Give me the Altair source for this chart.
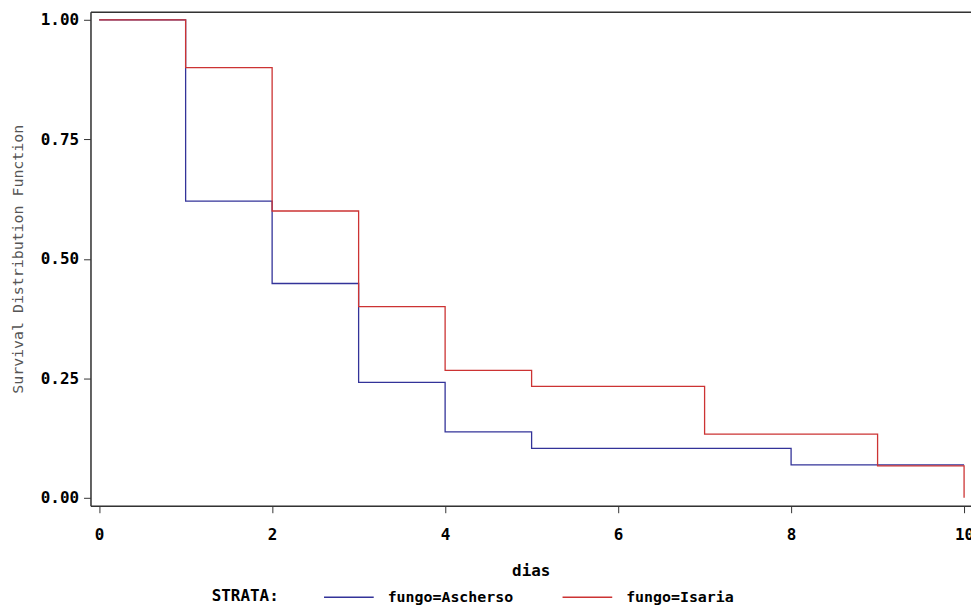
import altair as alt
import pandas as pd

# Kaplan-Meier survival estimates
strata = ["fungo=Ascherso", "fungo=Isaria"]
days_asch = [0, 1, 2, 3, 4, 5, 8, 10]
surv_asch = [1.0, 0.6207, 0.4483, 0.2414, 0.1379, 0.1034, 0.0690, 0.0690]
days_isa = [0, 1, 2, 3, 4, 5, 7, 9, 10]
surv_isa = [1.0, 0.90, 0.60, 0.40, 0.2667, 0.2333, 0.1333, 0.0667, 0.0]

x_ticks = [0, 2, 4, 6, 8, 10]
y_ticks = [0.0, 0.25, 0.50, 0.75, 1.0]
colors = ["#333399", "#CC3333"]

rows = []
for d, s in zip(days_asch, surv_asch):
    rows.append({"dias": d, "surv": s, "strata": strata[0]})
for d, s in zip(days_isa, surv_isa):
    rows.append({"dias": d, "surv": s, "strata": strata[1]})
df = pd.DataFrame(rows)

font = "DejaVu Sans Mono"

xscale = alt.Scale(domain=[-0.1, 10.08], nice=False, zero=False)
yscale = alt.Scale(domain=[-0.0166, 1.0166], nice=False, zero=False)

yaxis = alt.Axis(
    values=y_ticks, format=".2f", title="Survival Distribution Function",
    labelFont=font, labelFontSize=16, labelFontWeight="bold", labelColor="#000",
    titleFont=font, titleFontSize=15, titleFontWeight="normal", titleColor="#555",
    titlePadding=15, labelPadding=5, tickSize=7, tickColor="#333",
    domainColor="#333", domainWidth=1.5, grid=False,
)

lines = alt.Chart(df).mark_line(interpolate="step-after", strokeWidth=1.3).encode(
    x=alt.X("dias:Q", scale=xscale, axis=alt.Axis(
        values=x_ticks, format="d", title="dias",
        labelFont=font, labelFontSize=16, labelFontWeight="bold", labelColor="#000",
        titleFont=font, titleFontSize=16, titleFontWeight="bold", titleColor="#000",
        labelPadding=14, titlePadding=20, tickSize=7, tickColor="#333",
        domainColor="#333", domainWidth=1.5, grid=False,
    )),
    y=alt.Y("surv:Q", scale=yscale, axis=yaxis),
    color=alt.Color("strata:N", scale=alt.Scale(domain=strata, range=colors),
                    legend=alt.Legend(
                        title="STRATA:", orient="none", legendX=122, legendY=563,
                        direction="horizontal", titleOrient="left",
                        titleBaseline="top", titleAnchor="middle",
                        symbolType="stroke", symbolSize=2500, symbolStrokeWidth=1.5,
                        labelFont=font, labelFontSize=15, labelFontWeight="bold", labelColor="#000",
                        titleFont=font, titleFontSize=16, titleFontWeight="bold", titleColor="#000",
                        titlePadding=44, labelOffset=13, columnPadding=46,
                    )),
)

top = alt.Chart(df).mark_line(opacity=0).encode(
    x=alt.X("dias:Q", scale=xscale, axis=alt.Axis(
        orient="top", labels=False, ticks=False, title=None, grid=False,
        domainColor="#333", domainWidth=1.5)),
    y=alt.Y("surv:Q", scale=yscale, axis=yaxis),
)

chart = alt.layer(lines, top).resolve_axis(x="independent").properties(
    width=886, height=497,
    autosize=alt.AutoSizeParams(type="none"),
    padding={"left": 83, "top": 2, "right": 0, "bottom": 98},
).configure_view(stroke=None).configure(background="white")

chart.save("out.html", embed_options={"renderer": "svg", "actions": False})
